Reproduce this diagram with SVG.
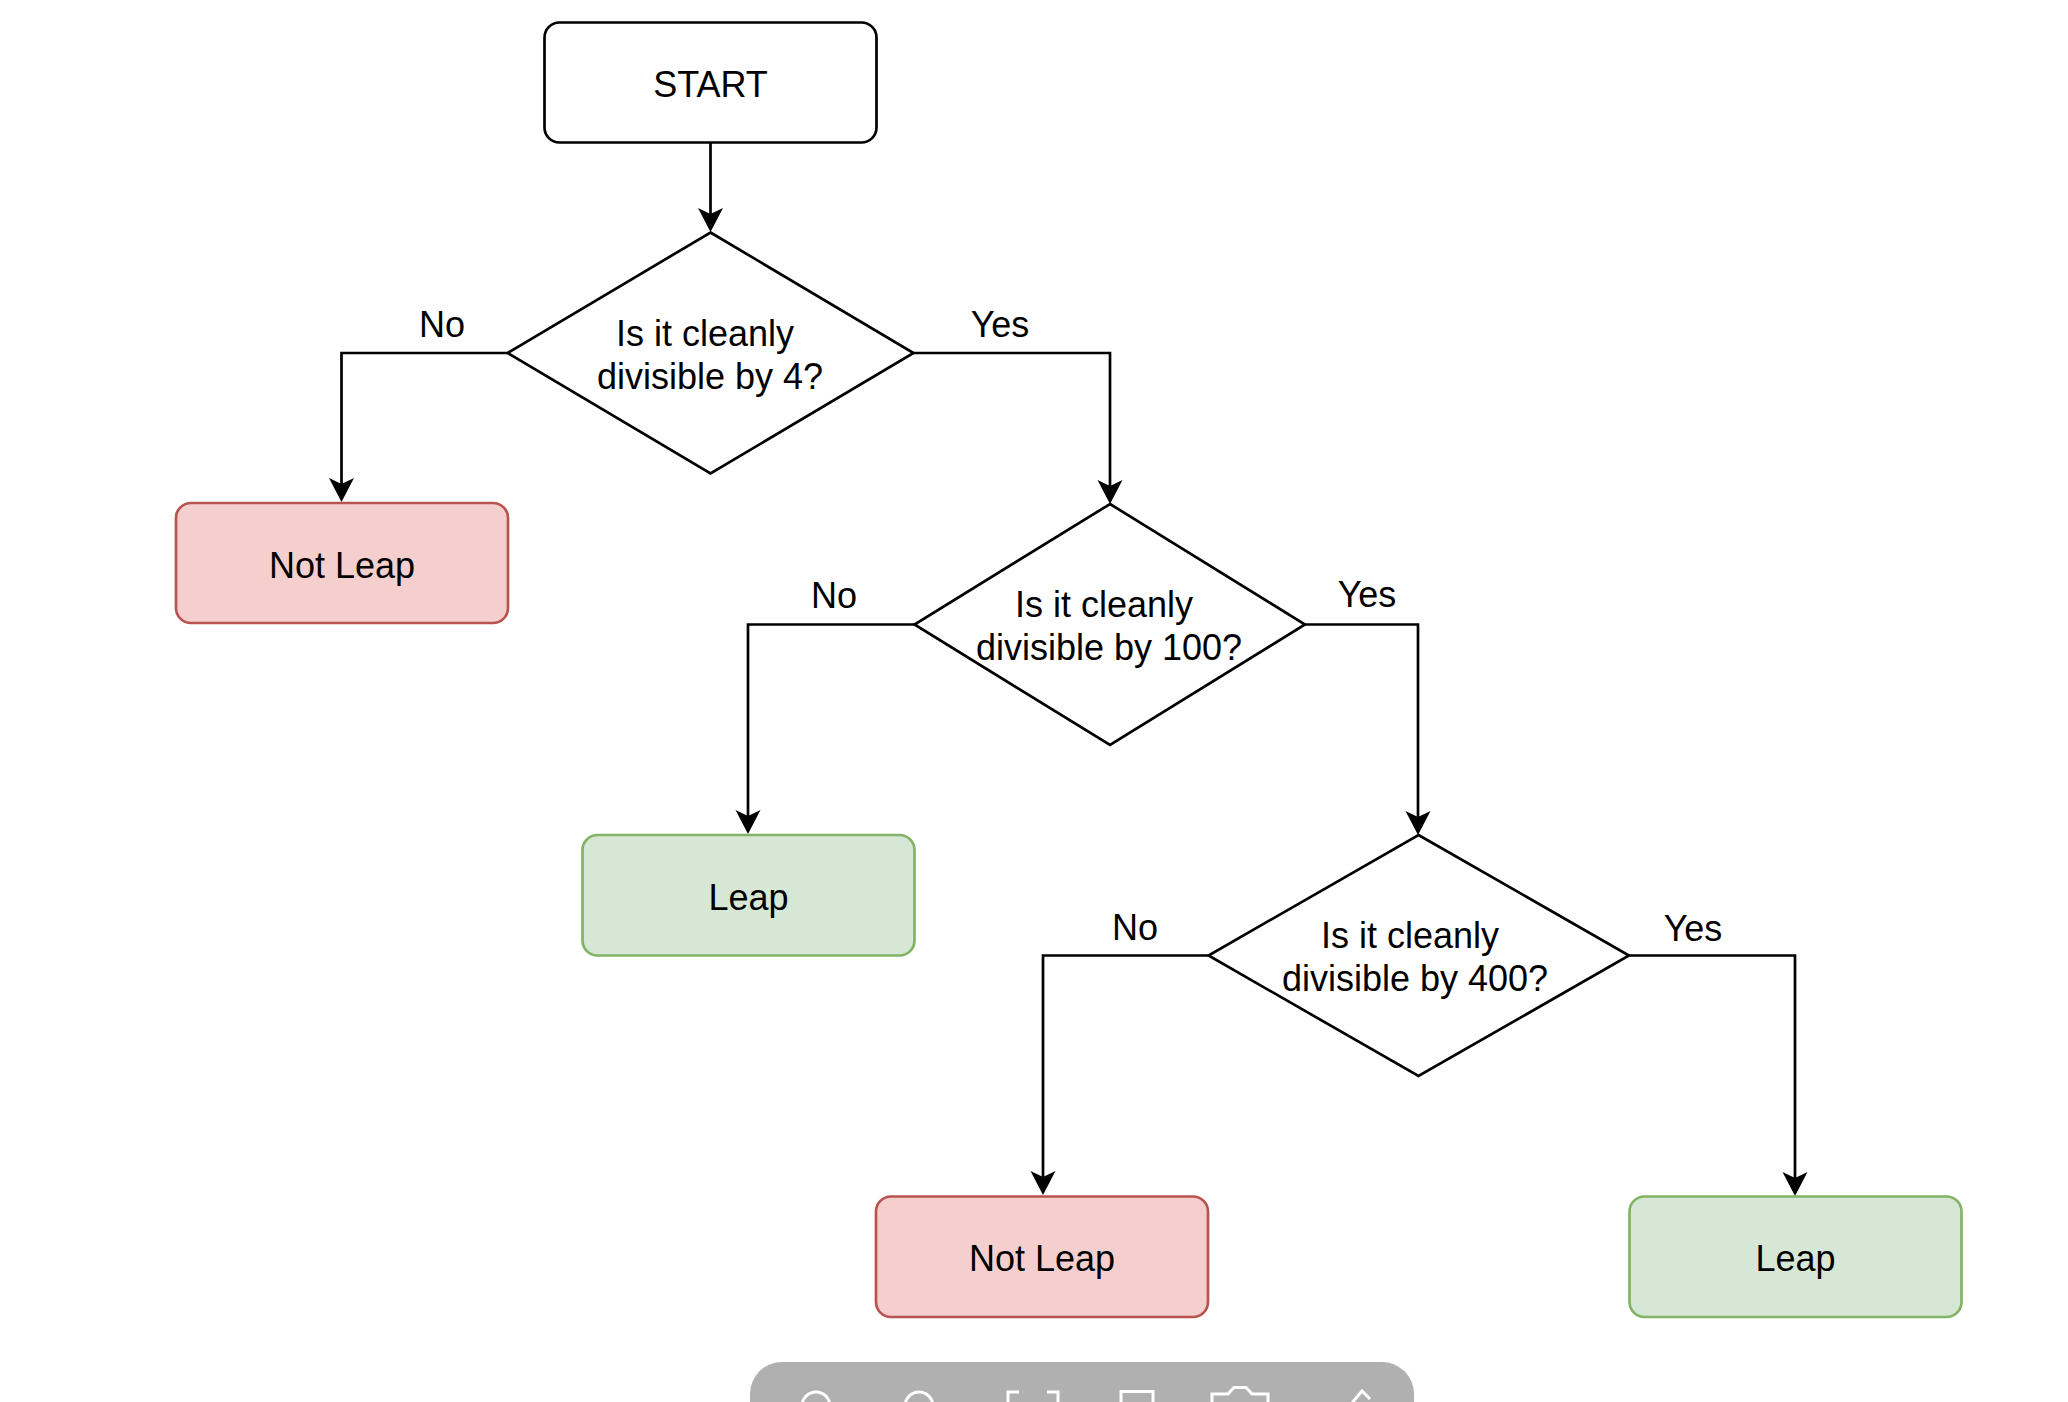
<svg xmlns="http://www.w3.org/2000/svg" width="2068" height="1402" viewBox="0 0 2068 1402">
<style>
  .lbl { font-family: "Liberation Sans", Arial, Helvetica, sans-serif; font-size: 36px; fill: #000; text-anchor: middle; }
  .box { stroke-width: 2.7; }
  .plain { fill: #ffffff; stroke: #000000; }
  .red { fill: #f4cfcd; stroke: #b85450; }
  .green { fill: #d7e7d5; stroke: #82b366; }
  .dia { fill: #ffffff; stroke: #000000; stroke-width: 2.7; stroke-linejoin: miter; }
  .edge { fill: none; stroke: #000000; stroke-width: 2.7; marker-end: url(#arrow); }
  .ico { fill: none; stroke: #ffffff; stroke-width: 3; }
</style>
<defs>
  <marker id="arrow" markerUnits="userSpaceOnUse" markerWidth="30" markerHeight="30" viewBox="-15 -15 30 30" refX="0" refY="0" orient="auto">
    <path d="M12,0 L-12,-12.5 L-6,0 L-12,12.5 Z" fill="#000000"/>
  </marker>
</defs>
<rect x="0" y="0" width="2068" height="1402" fill="#ffffff"/>

<g id="connectors">
  <path class="edge" d="M710.5,143 V220"/>
  <path class="edge" d="M507,353 H341.5 V490"/>
  <path class="edge" d="M913,353 H1110 V492"/>
  <path class="edge" d="M914,624.5 H748 V822"/>
  <path class="edge" d="M1305,624.5 H1418 V823"/>
  <path class="edge" d="M1208,955.5 H1043 V1183"/>
  <path class="edge" d="M1629,955.5 H1795 V1184"/>
  <text class="lbl" x="442" y="337">No</text>
  <text class="lbl" x="1000" y="337">Yes</text>
  <text class="lbl" x="834" y="608">No</text>
  <text class="lbl" x="1367" y="607">Yes</text>
  <text class="lbl" x="1135" y="940">No</text>
  <text class="lbl" x="1693" y="941">Yes</text>
</g>

<g id="start">
  <rect class="box plain" x="544.5" y="22.5" width="332" height="120" rx="15" ry="15"/>
  <text class="lbl" x="710.5" y="97">START</text>
</g>

<g id="q4">
  <polygon class="dia" points="710.5,232.5 913.5,353 710.5,473.5 507.5,353"/>
  <text class="lbl" x="705" y="346">Is it cleanly</text>
  <text class="lbl" x="710" y="389">divisible by 4?</text>
</g>

<g id="notleap1">
  <rect class="box red" x="176" y="503" width="332" height="120" rx="15" ry="15"/>
  <text class="lbl" x="342" y="578">Not Leap</text>
</g>

<g id="q100">
  <polygon class="dia" points="1110,504 1305,624.5 1110,745 914.5,624.5"/>
  <text class="lbl" x="1104" y="617">Is it cleanly</text>
  <text class="lbl" x="1109" y="660">divisible by 100?</text>
</g>

<g id="leap1">
  <rect class="box green" x="582.5" y="835" width="332" height="120.5" rx="15" ry="15"/>
  <text class="lbl" x="748.5" y="910">Leap</text>
</g>

<g id="q400">
  <polygon class="dia" points="1418.5,835 1629,955.5 1418.5,1076 1208.5,955.5"/>
  <text class="lbl" x="1410" y="948">Is it cleanly</text>
  <text class="lbl" x="1415" y="991">divisible by 400?</text>
</g>

<g id="notleap2">
  <rect class="box red" x="876" y="1196.5" width="332" height="120.5" rx="15" ry="15"/>
  <text class="lbl" x="1042" y="1271">Not Leap</text>
</g>

<g id="leap2">
  <rect class="box green" x="1629.5" y="1196.5" width="332" height="120.5" rx="15" ry="15"/>
  <text class="lbl" x="1795.5" y="1271">Leap</text>
</g>

<g id="toolbar">
  <rect x="750" y="1362" width="664" height="90" rx="32" ry="32" fill="#b0b0b0"/>
  <circle class="ico" cx="816" cy="1406" r="14"/>
  <circle class="ico" cx="919" cy="1406" r="14"/>
  <path class="ico" d="M1008,1403 V1392 H1019 M1047,1392 H1058 V1403"/>
  <rect class="ico" x="1121" y="1391.5" width="32" height="20"/>
  <path class="ico" d="M1212,1403 V1394 H1228 L1234,1387.5 H1246 L1252,1394 H1268 V1403"/>
  <path class="ico" d="M1352,1403 L1362,1391 L1370,1399"/>
</g>
</svg>
